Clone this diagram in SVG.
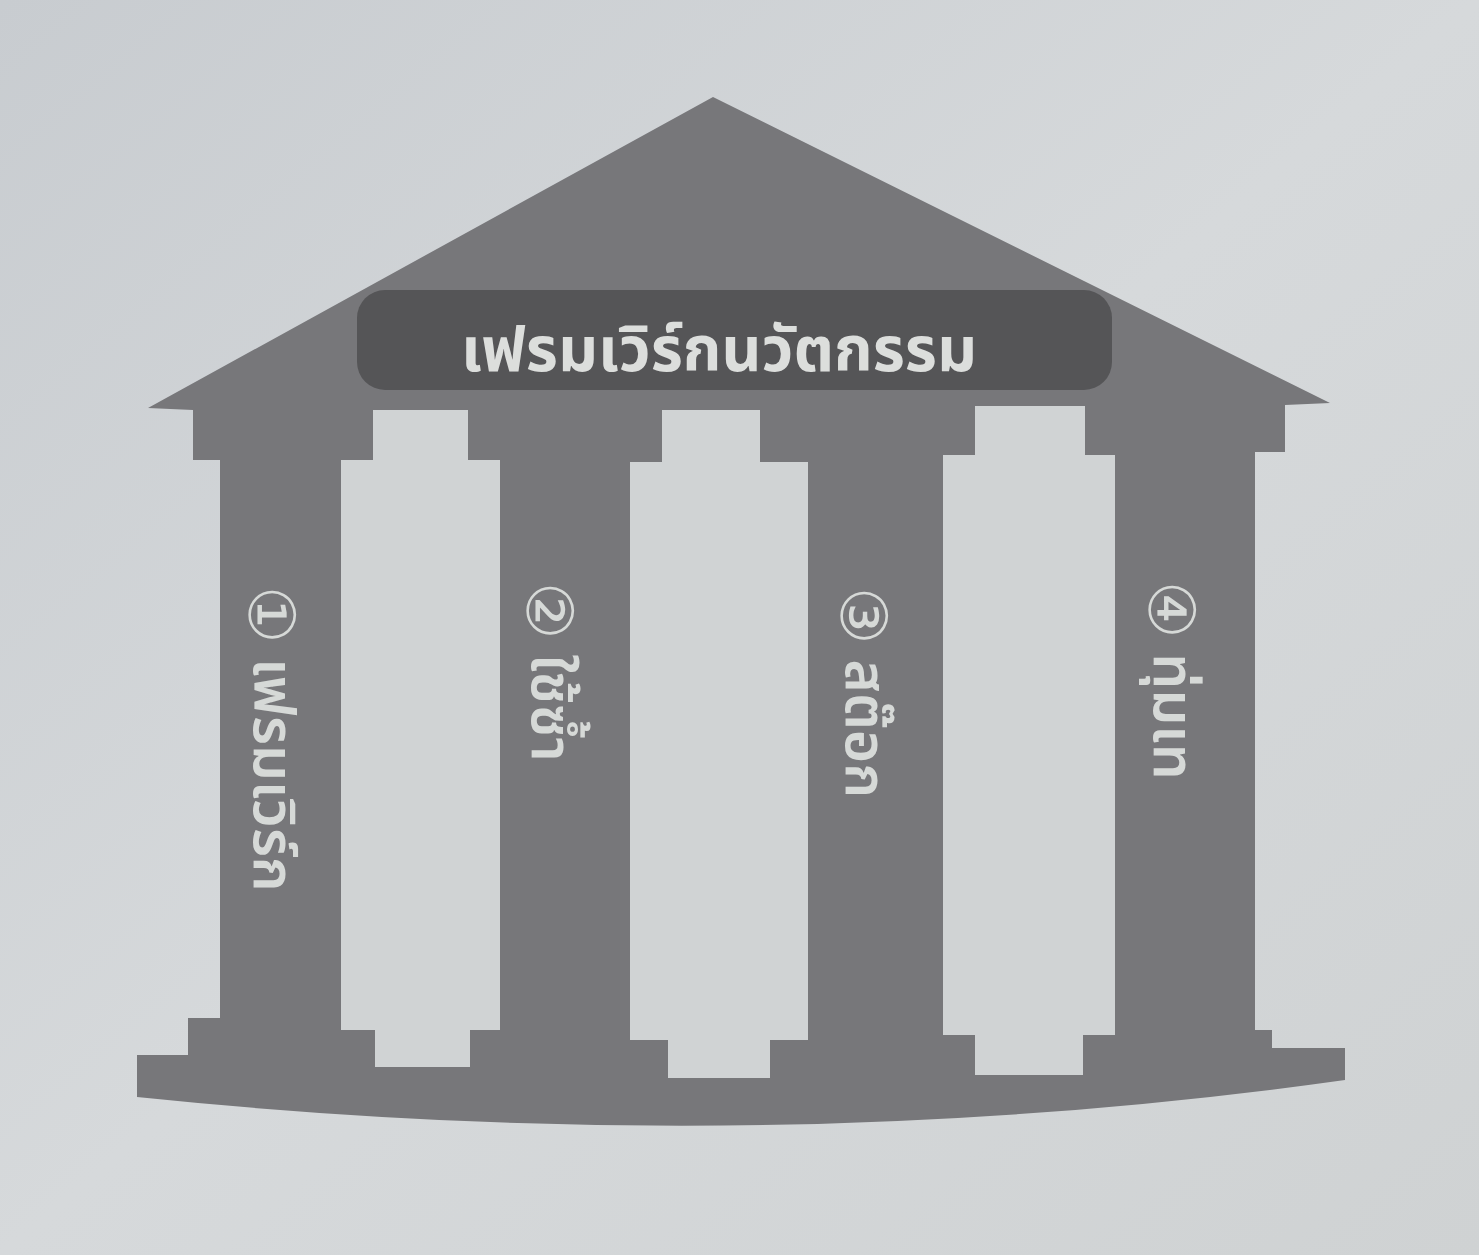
<svg xmlns="http://www.w3.org/2000/svg" width="1479" height="1255" viewBox="0 0 1479 1255">
  <defs>
    <linearGradient id="paper" x1="0" y1="0" x2="1" y2="1">
      <stop offset="0" stop-color="#c8ccd0"/>
      <stop offset="0.5" stop-color="#d6d9db"/>
      <stop offset="1" stop-color="#cfd2d3"/>
    </linearGradient>
    <style>
      .gray { fill: #77777a; }
      .gap { fill: #d0d3d4; }
      .box { fill: #555557; }
      .title { font-family: "Noto Sans Thai", "Noto Sans Thai UI", "Leelawadee UI", Tahoma, "Noto Sans", "DejaVu Sans", sans-serif; font-weight: 700; font-size: 62px; fill: #dcdedc; text-anchor: middle; }
      .pl { font-family: "Noto Sans Thai", "Noto Sans Thai UI", "Leelawadee UI", Tahoma, "Noto Sans", "DejaVu Sans", sans-serif; font-weight: 600; font-size: 57px; fill: #d6d9d7; dominant-baseline: central; }
      .num { font-family: "DejaVu Sans", sans-serif; font-weight: 400; font-size: 64px; }
    </style>
  </defs>
  <rect width="1479" height="1255" fill="url(#paper)"/>

  <g id="temple">
    <path class="gray" d="M148,408 L713,97 L1330,403 L1285,405 L1285,452 L1255,452 L1255,1030 L1272,1030 L1272,1048 L1345,1048 L1345,1080 Q762,1162 137,1097 L137,1055 L188,1055 L188,1018 L220,1018 L220,460 L193,460 L193,410 Z"/>
  </g>

  <g id="gaps">
    <path class="gap" d="M373,410 L468,410 L468,460 L500,460 L500,1030 L470,1030 L470,1067 L375,1067 L375,1030 L341,1030 L341,460 L373,460 Z"/>
    <path class="gap" d="M662,410 L760,410 L760,462 L808,462 L808,1040 L770,1040 L770,1078 L668,1078 L668,1040 L630,1040 L630,462 L662,462 Z"/>
    <path class="gap" d="M975,406 L1085,406 L1085,455 L1115,455 L1115,1035 L1083,1035 L1083,1075 L975,1075 L975,1035 L943,1035 L943,455 L975,455 Z"/>
  </g>

  <g id="title">
    <rect class="box" x="357" y="290" width="755" height="100" rx="28"/>
    <text class="title" x="719" y="371">เฟรมเวิร์กนวัตกรรม</text>
  </g>

  <g id="pillar1">
    <text class="pl" transform="translate(271,586) rotate(90)"><tspan class="num">①</tspan> เฟรมเวิร์ก</text>
  </g>
  <g id="pillar2">
    <text class="pl" transform="translate(549,582) rotate(90)"><tspan class="num">②</tspan> ใช้ซ้ำ</text>
  </g>
  <g id="pillar3">
    <text class="pl" transform="translate(863,587) rotate(90)"><tspan class="num">③</tspan> สต๊อก</text>
  </g>
  <g id="pillar4">
    <text class="pl" transform="translate(1171,581) rotate(90)"><tspan class="num">④</tspan> ทุ่มเท</text>
  </g>
</svg>
